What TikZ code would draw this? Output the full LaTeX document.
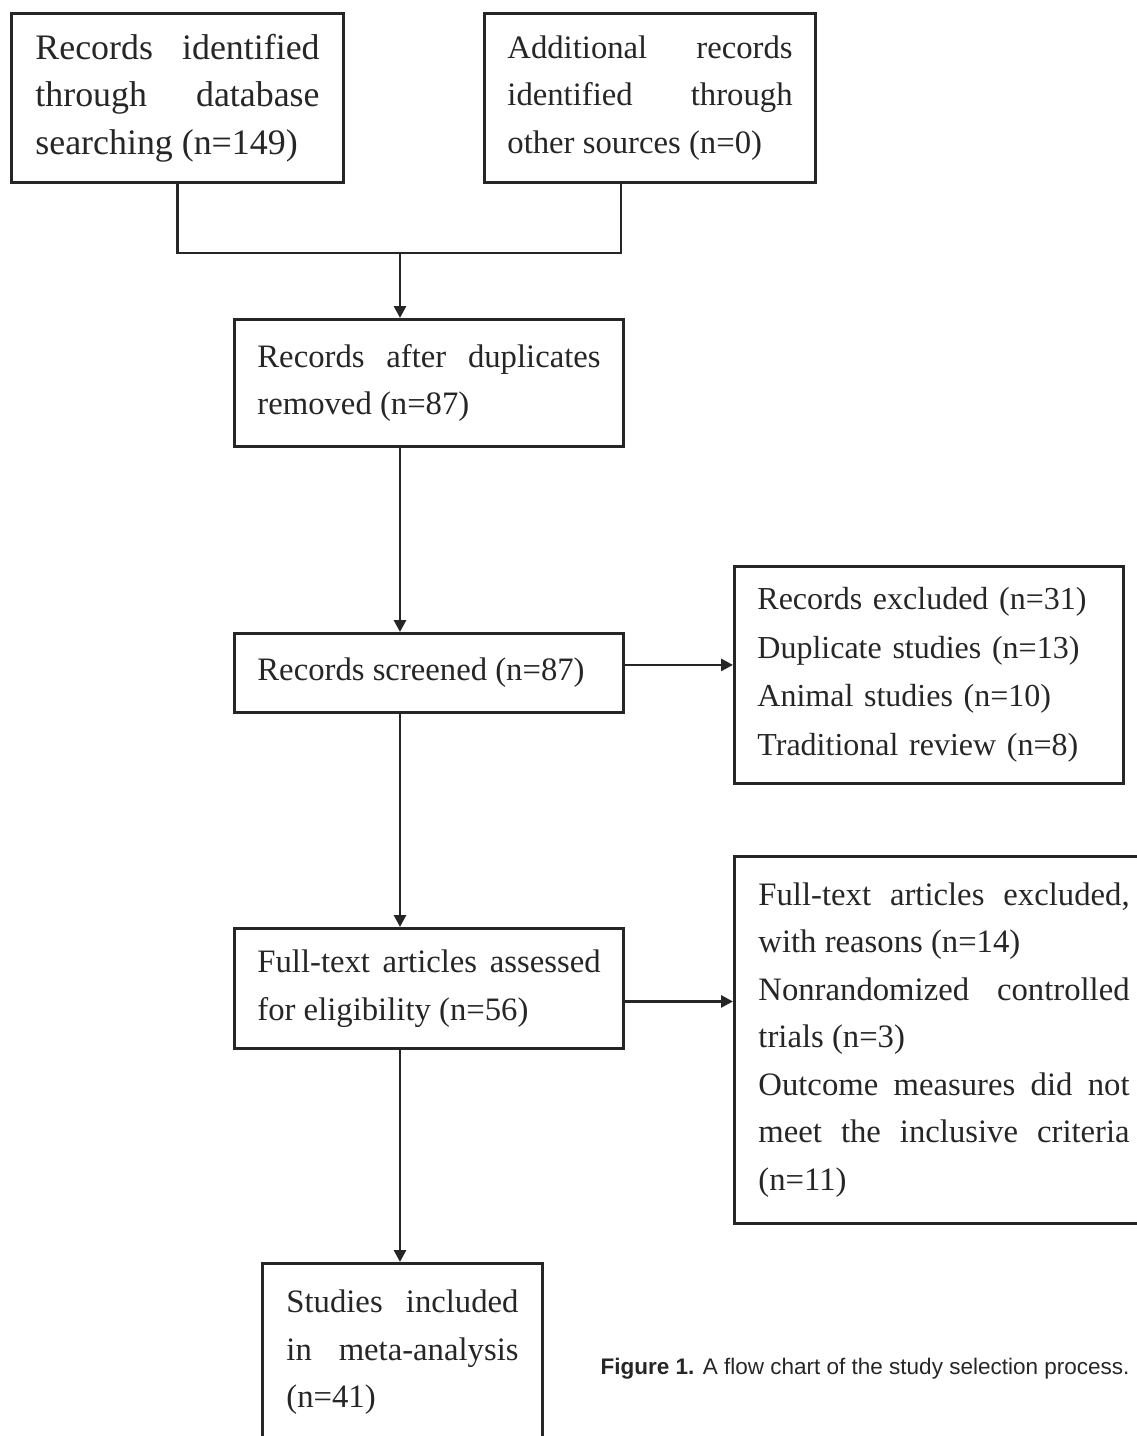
\documentclass[tikz,border=0pt]{standalone}
\usepackage{fontspec}
\setmainfont{Liberation Serif}
\newfontfamily\capfont{Liberation Sans}
\usepackage{tikz}
\usetikzlibrary{arrows.meta,calc}
\definecolor{ink}{gray}{0.15}

\begin{document}
\begin{tikzpicture}[x=0.01cm, y=-0.01cm,%Edit size here
    box/.style={draw=ink, text=ink, line width=0.8pt, anchor=north west, inner sep=0pt, align=justify, font=\fontsize{9.3}{13.5}\selectfont},
    arr/.style={draw=ink, line width=0.8pt, -{Triangle[length=1.2mm,width=1.2mm]}}]
      \useasboundingbox (0,0) rectangle (1137,1436);
      \clip (0,0) rectangle (1137,1436);
      \node[box, font=\fontsize{10.2}{13.5}\selectfont, text width=2.84cm, minimum width=3.32cm, minimum height=1.69cm] (dbrec) at (10,12) {Records identified\linebreak through database\linebreak searching (n=149)};
      \node[box, text width=2.85cm, minimum width=3.31cm, minimum height=1.69cm] (otherrec) at (483,12) {Additional records\linebreak identified through\linebreak other sources (n=0)};
      \node[box, text width=3.43cm, minimum width=3.89cm, minimum height=1.27cm] (dedup) at (233,318) {Records after duplicates\linebreak removed (n=87)};
      \node[box, text width=3.43cm, minimum width=3.89cm, minimum height=0.79cm] (screened) at (233,632) {Records screened (n=87)};
      \node[box, align=left, font=\fontsize{9.1}{13.8}\selectfont, text width=3.43cm, minimum width=3.89cm, minimum height=2.17cm] (excluded) at (733,565) {Records excluded (n=31)\\ Duplicate studies (n=13)\\ Animal studies (n=10)\\ Traditional review (n=8)};
      \node[box, text width=3.71cm, minimum width=4.19cm, minimum height=3.67cm] (ftexcl) at (733,855) {Full-text articles excluded,\linebreak with reasons (n=14)\\ Nonrandomized controlled\linebreak trials (n=3)\\ Outcome measures did not\linebreak meet the inclusive criteria\linebreak (n=11)};
      \node[box, text width=3.43cm, minimum width=3.89cm, minimum height=1.20cm] (assessed) at (233,927) {Full-text articles assessed\linebreak for eligibility (n=56)};
      \node[box, text width=2.32cm, minimum width=2.80cm, minimum height=1.78cm] (included) at (261,1262) {Studies included\linebreak in meta-analysis\linebreak (n=41)};
      \node[anchor=west, inner sep=0pt, text=ink, font=\capfont\fontsize{6.4}{8}\selectfont] (caption) at (600,1369) {\textbf{Figure 1.} A flow chart of the study selection process.};
      \coordinate (otherfoot) at (621,181);
      \coordinate (merge) at (400,253);
      \draw[ink, line width=0.8pt] (dbrec.south) |- (merge) -| (otherfoot);
      \draw[arr] (merge) -- (merge |- dedup.north);
      \draw[arr] (dedup.south -| merge) -- (screened.north -| merge);
      \draw[arr] (screened.south -| merge) -- (assessed.north -| merge);
      \draw[arr] (assessed.south -| merge) -- (included.north -| merge);
      \draw[arr] ([yshift=0.08cm]screened.east) -- ([yshift=0.08cm]screened.east -| excluded.west);
      \draw[arr] ([yshift=-0.13cm]assessed.east) -- ([yshift=-0.13cm]assessed.east -| ftexcl.west);
\end{tikzpicture}
\end{document}
